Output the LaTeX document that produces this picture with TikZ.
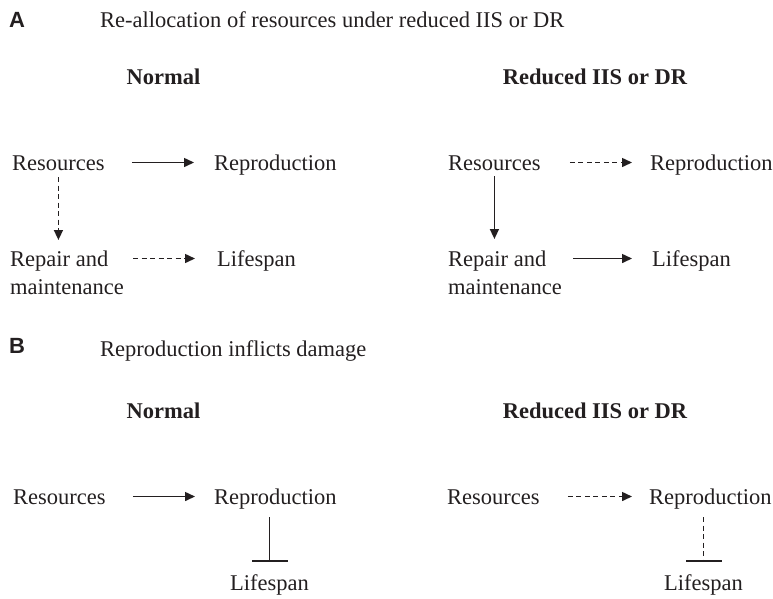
\documentclass[tikz,border=0pt]{standalone}
\usepackage{fontspec}
\setmainfont{Liberation Serif}
\newfontfamily\panelfont{Liberation Sans}
\definecolor{ink}{HTML}{231F20}
\usetikzlibrary{arrows.meta,positioning}
\tikzset{
  lbl/.style={inner sep=0pt,text height=15pt,text depth=0pt,text=ink,font=\fontsize{22.5}{28}\selectfont},
  twolines/.style={inner sep=0pt,align=left,text=ink,font=\fontsize{22.5}{28}\selectfont},
  head/.style={lbl,font=\fontsize{22.5}{28}\selectfont\bfseries},
  panel/.style={inner sep=0pt,text=ink,font=\fontsize{22}{26}\selectfont\panelfont\bfseries},
  act/.style={draw=ink,line width=1.5pt,-{Triangle[length=10pt,width=9pt]}},
  weak/.style={act,dash pattern=on 5pt off 3.5pt},
  inhib/.style={draw=ink,line width=1.6pt,-{Bar[width=36pt,line width=1.6pt]}},
  weakinhib/.style={inhib,dash pattern=on 5pt off 3.5pt}
}

\begin{document}
\begin{tikzpicture}[x=1pt,y=-1pt]
  \useasboundingbox (0,0) rectangle (773,598);
  % A
  \node[panel,anchor=base west] (lblA) at (9,27) {A};
  \node[lbl,anchor=base west] (titleA) at (100,27) {Re-allocation of resources under reduced IIS or DR};
  \node[head,anchor=base] (normA) at (163.5,84) {Normal};
  \node[head,anchor=base] (redA) at (595,84) {Reduced IIS or DR};
  \node[lbl,anchor=base west] (resA1) at (12,170) {Resources};
  \node[lbl,anchor=base west] (repA1) at (214,170) {Reproduction};
  \node[twolines,anchor=north west] (repairA1) at (10,251) {Repair and\\maintenance};
  \node[lbl,anchor=base west] (lifeA1) at (217,266) {Lifespan};
  \draw[act,shorten <=27pt,shorten >=20pt] (resA1.east) -- (repA1.west);
  \draw[weak,shorten <=7pt,shorten >=11pt] (resA1.south) -- (resA1.south |- repairA1.north);
  \draw[weak,shorten <=9pt,shorten >=22pt] (repairA1.east |- lifeA1.west) -- (lifeA1.west);
  \node[lbl,anchor=base west] (resA2) at (448,170) {Resources};
  \node[lbl,anchor=base west] (repA2) at (650,170) {Reproduction};
  \node[twolines,anchor=north west] (repairA2) at (448,251) {Repair and\\maintenance};
  \node[lbl,anchor=base west] (lifeA2) at (652,266) {Lifespan};
  \draw[weak,shorten <=29pt,shorten >=18pt] (resA2.east) -- (repA2.west);
  \draw[act,shorten <=6pt,shorten >=12pt] (resA2.south) -- (resA2.south |- repairA2.north);
  \draw[act,shorten <=11pt,shorten >=20pt] (repairA2.east |- lifeA2.west) -- (lifeA2.west);
  % B
  \node[panel,anchor=base west] (lblB) at (9,353) {B};
  \node[lbl,anchor=base west] (titleB) at (100,356) {Reproduction inflicts damage};
  \node[head,anchor=base] (normB) at (163.5,418) {Normal};
  \node[head,anchor=base] (redB) at (595,418) {Reduced IIS or DR};
  \node[lbl,anchor=base west] (resB1) at (13,504) {Resources};
  \node[lbl,anchor=base west] (repB1) at (214,504) {Reproduction};
  \node[lbl,anchor=base west] (lifeB1) at (230,590) {Lifespan};
  \draw[act,shorten <=27pt,shorten >=19pt] (resB1.east) -- (repB1.west);
  \draw[inhib,shorten <=13pt,shorten >=13pt] (repB1.south -| lifeB1.north) -- (lifeB1.north);
  \node[lbl,anchor=base west] (resB2) at (447,504) {Resources};
  \node[lbl,anchor=base west] (repB2) at (649,504) {Reproduction};
  \node[lbl,anchor=base west] (lifeB2) at (664,590) {Lifespan};
  \draw[weak,shorten <=28pt,shorten >=17pt] (resB2.east) -- (repB2.west);
  \draw[weakinhib,shorten <=13pt,shorten >=13pt] (repB2.south -| lifeB2.north) -- (lifeB2.north);
\end{tikzpicture}
\end{document}
